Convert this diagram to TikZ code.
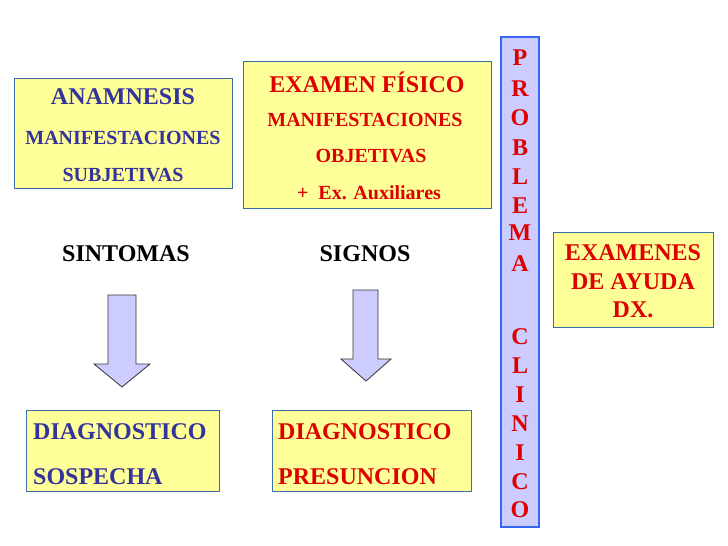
\documentclass[tikz,border=0pt]{standalone}
\usepackage{fontspec}
\setmainfont{Liberation Serif}
\definecolor{boxfill}{HTML}{FFFF99}
\definecolor{boxline}{HTML}{3A6EA5}
\definecolor{txtblue}{HTML}{333399}
\definecolor{txtred}{HTML}{DD0000}
\definecolor{lav}{HTML}{CCCCFF}
\definecolor{barline}{HTML}{3366EE}
\tikzset{
  ybox/.style={draw=boxline, fill=boxfill, line width=1pt},
  big/.style={font=\fontsize{24}{27}\selectfont\bfseries, inner sep=0pt},
  mid/.style={font=\fontsize{20}{23}\selectfont\bfseries, inner sep=0pt},
  blockarrow/.style={draw=black!80, fill=lav, line width=0.8pt, line join=miter},
}
\begin{document}
\begin{tikzpicture}[x=1pt,y=-1pt]
\useasboundingbox (0,0) rectangle (728,546);
% boxes
\draw[ybox] (14,78) rectangle (232,188);
\draw[ybox] (243,61) rectangle (491,208);
\draw[ybox] (553,232) rectangle (713,327);
\draw[ybox] (26,410) rectangle (219,491);
\draw[ybox] (272,410) rectangle (471,491);
\draw[draw=barline, fill=lav, line width=2.5pt] (501,37) rectangle (539,527);
% anamnesis
\node[big, txtblue] (ana) at (123,97) {ANAMNESIS};
\node[mid, txtblue] (man1) at (123,138) {MANIFESTACIONES};
\node[mid, txtblue] (sub) at (123,175) {SUBJETIVAS};
% examen fisico
\node[big, txtred] (exf) at (367,82) {EXAMEN FÍSICO};
\node[mid, txtred] (man2) at (365,120) {MANIFESTACIONES};
\node[mid, txtred] (obj) at (371,156) {OBJETIVAS};
\node[mid, txtred] (aux) at (369,193) {+\ \ Ex. Auxiliares};
% sintomas / signos
\node[big, black] (sin) at (126,254) {SINTOMAS};
\node[big, black] (sig) at (365,254) {SIGNOS};
% examenes
\node[big, txtred] (ex1) at (633,253) {EXAMENES};
\node[big, txtred] (ex2) at (633,282) {DE AYUDA};
\node[big, txtred] (ex3) at (633,310) {DX.};
% diagnostico
\node[big, txtblue, anchor=west] (d1a) at (33,432) {DIAGNOSTICO};
\node[big, txtblue, anchor=west] (d1b) at (33,477) {SOSPECHA};
\node[big, txtred, anchor=west] (d2a) at (278,432) {DIAGNOSTICO};
\node[big, txtred, anchor=west] (d2b) at (278,477) {PRESUNCION};
% problema clinico
\foreach \l/\y [count=\i] in {P/58,R/89,O/118,B/148,L/177,E/206,M/233,A/264,C/337,L/366,I/395,N/424,I/453,C/482,O/510}
  \node[big, txtred] (pc\i) at (520,\y) {\l};
% block arrows
\draw[blockarrow] (108,295) -- (136,295) -- (136,364) -- (150,364) -- (122,387) -- (94,364) -- (108,364) -- cycle;
\draw[blockarrow] (353,290) -- (378,290) -- (378,359) -- (391,359) -- (366,381) -- (341,359) -- (353,359) -- cycle;
\end{tikzpicture}
\end{document}
